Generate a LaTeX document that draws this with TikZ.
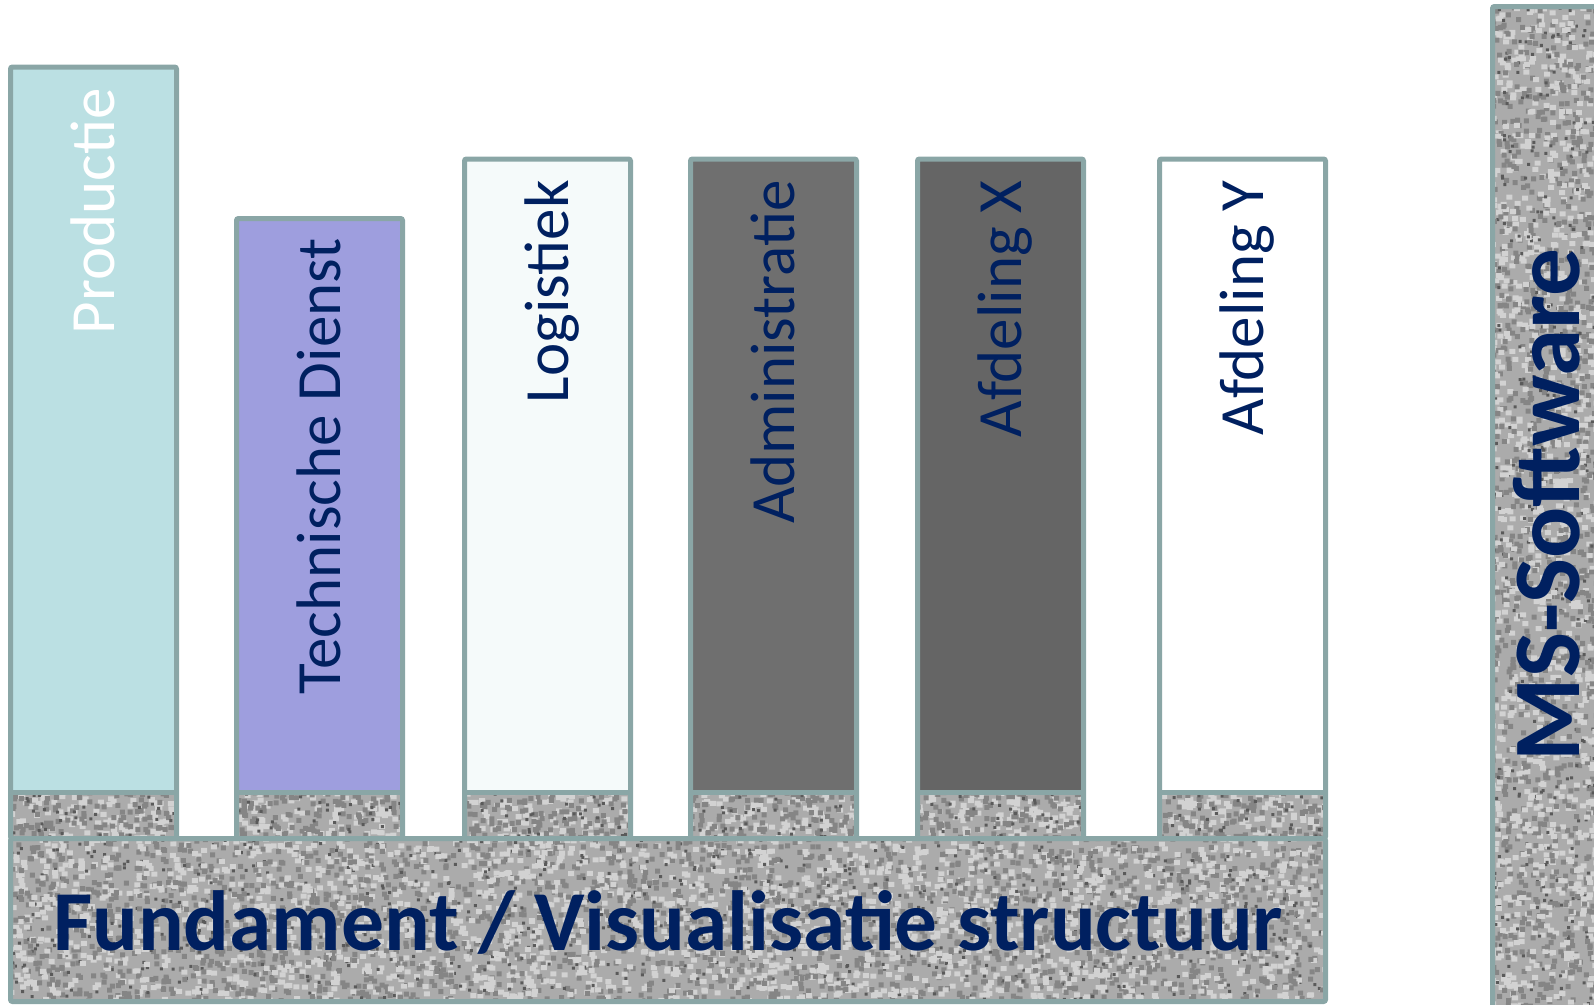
\documentclass[tikz,border=0pt]{standalone}
\usepackage{fontspec}
\setmainfont{Carlito}
\usepackage{xcolor}
\usetikzlibrary{positioning}
\definecolor{randlijn}{HTML}{8AA6A6}
\definecolor{donkerblauw}{HTML}{002060}
\definecolor{productiekleur}{HTML}{BBE0E3}
\definecolor{technischkleur}{HTML}{9E9EDE}
\definecolor{logistiekkleur}{HTML}{F5FAFA}
\definecolor{administratiekleur}{HTML}{6F6F6F}
\definecolor{afdelingxkleur}{HTML}{656565}
\definecolor{granietgrijs}{HTML}{ABABAB}
\definecolor{granietdonker}{HTML}{858585}
\definecolor{granietzwart}{HTML}{5A5A5A}
\definecolor{granietlicht}{HTML}{D2D2D2}
\newcommand{\graniet}[4]{%
    \begin{scope}
        \clip (#1,#2) rectangle (#3,#4);
        \fill[granietgrijs] (#1,#2) rectangle (#3,#4);
        \pgfmathtruncatemacro{\blokken}{((#3-#1)/10)*((#4-#2)/10)/100+1}
        \foreach \b in {1,...,\blokken} {
            \fill[granietlicht] \foreach \k in {1,...,100} {({#1-3+rnd*(#3-#1)},{#2-3+rnd*(#4-#2)}) rectangle ++(6,5)};
            \fill[granietdonker] \foreach \k in {1,...,100} {({#1-3+rnd*(#3-#1)},{#2-3+rnd*(#4-#2)}) rectangle ++(5,5)};
            \fill[granietzwart] \foreach \k in {1,...,30} {({#1-2+rnd*(#3-#1)},{#2-2+rnd*(#4-#2)}) rectangle ++(3,3)};
        }
    \end{scope}}

\begin{document}
\begin{tikzpicture}[x=0.75pt, y=-0.75pt,
    kolom/.style={draw=randlijn, line width=3.75pt, rounded corners=1.5pt},
    kolomtekst/.style={rotate=90, anchor=base east, inner sep=0pt, text=donkerblauw, font=\fontsize{47.25}{50}\selectfont},
    vettekst/.style={inner sep=0pt, text=donkerblauw, font=\bfseries\fontsize{64}{68}\selectfont}]
                    \useasboundingbox (0,0) rectangle (1594,1004);
                    \clip (0,0) rectangle (1594,1004);
                    \pgfmathsetseed{4711}
                    \begin{scope}[shift={(10.5,0)}]
                        \fill[productiekleur] (0,67) rectangle (166,792.5);
                        \graniet{0}{792.5}{166}{838.5}
                        \draw[kolom] (0,67) rectangle (166,838.5);
                        \draw[kolom] (0,792.5) -- (166,792.5);
                        \node[kolomtekst, text=white] (productie) at (104,88) {Productie};
                    \end{scope}
                    \begin{scope}[shift={(236.5,0)}]
                        \fill[technischkleur] (0,218.5) rectangle (166,792.5);
                        \graniet{0}{792.5}{166}{838.5}
                        \draw[kolom] (0,218.5) rectangle (166,838.5);
                        \draw[kolom] (0,792.5) -- (166,792.5);
                        \node[kolomtekst] (techdienst) at (104,238) {Technische Dienst};
                    \end{scope}
                    \begin{scope}[shift={(464.5,0)}]
                        \fill[logistiekkleur] (0,159) rectangle (166,792.5);
                        \graniet{0}{792.5}{166}{838.5}
                        \draw[kolom] (0,159) rectangle (166,838.5);
                        \draw[kolom] (0,792.5) -- (166,792.5);
                        \node[kolomtekst] (logistiek) at (104,180) {Logistiek};
                    \end{scope}
                    \begin{scope}[shift={(690.5,0)}]
                        \fill[administratiekleur] (0,159) rectangle (166,792.5);
                        \graniet{0}{792.5}{166}{838.5}
                        \draw[kolom] (0,159) rectangle (166,838.5);
                        \draw[kolom] (0,792.5) -- (166,792.5);
                        \node[kolomtekst] (administratie) at (104,180) {Administratie};
                    \end{scope}
                    \begin{scope}[shift={(917.5,0)}]
                        \fill[afdelingxkleur] (0,159) rectangle (166,792.5);
                        \graniet{0}{792.5}{166}{838.5}
                        \draw[kolom] (0,159) rectangle (166,838.5);
                        \draw[kolom] (0,792.5) -- (166,792.5);
                        \node[kolomtekst] (afdelingx) at (104,180) {Afdeling X};
                    \end{scope}
                    \begin{scope}[shift={(1159.5,0)}]
                        \fill[white] (0,159) rectangle (166,792.5);
                        \graniet{0}{792.5}{166}{838.5}
                        \draw[kolom] (0,159) rectangle (166,838.5);
                        \draw[kolom] (0,792.5) -- (166,792.5);
                        \node[kolomtekst] (afdelingy) at (104,180) {Afdeling Y};
                    \end{scope}
                    \graniet{10.5}{838.5}{1325.5}{1001.5}
                    \draw[kolom] (10.5,838.5) rectangle (1325.5,1001.5);
                    \node[vettekst, anchor=base] (fundament) at (668,950.5) {Fundament / Visualisatie structuur};
                    \graniet{1492.5}{6.5}{1600}{1010}
                    \draw[kolom] (1492.5,6.5) rectangle (1620,1030);
                    \node[vettekst, rotate=90, anchor=base, font=\bfseries\fontsize{71.5}{74}\selectfont] (mssoftware) at (1579,505) {MS-Software};
                \end{tikzpicture}
\end{document}
